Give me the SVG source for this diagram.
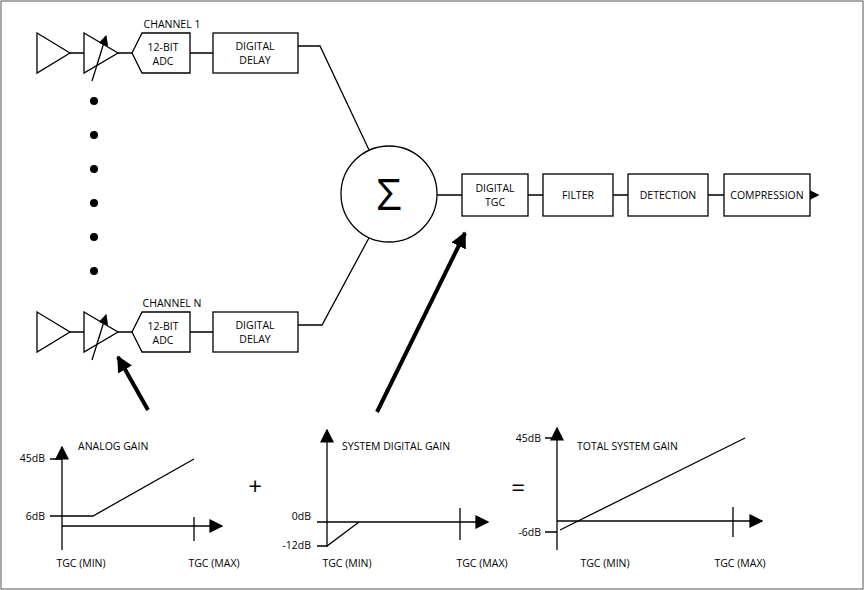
<svg xmlns="http://www.w3.org/2000/svg" width="864" height="590" viewBox="0 0 864 590">
<style>
.s{fill:none;stroke:#000;stroke-width:1.3}
.b{fill:#fff;stroke:#000;stroke-width:1.3}
text{font-family:"Open Sans","Liberation Sans",sans-serif;font-size:10.5px;fill:#000}
.m{text-anchor:middle}
.e{text-anchor:end}
</style>
<defs>
<marker id="ah" viewBox="0 0 10 10" refX="9" refY="5" markerWidth="10" markerHeight="10" markerUnits="userSpaceOnUse" orient="auto"><path d="M0,0L10,5L0,10z"/></marker>
<marker id="ab" viewBox="0 0 10 10" refX="9" refY="5" markerWidth="14" markerHeight="14" markerUnits="userSpaceOnUse" orient="auto"><path d="M0,0L10,5L0,10z"/></marker>
<marker id="at" viewBox="0 0 10 10" refX="9" refY="5" markerWidth="4" markerHeight="4" orient="auto"><path d="M0,0L10,5L0,10z"/></marker>
</defs>
<rect x="1" y="1" width="862" height="588" fill="#fff" stroke="#555" stroke-width="1"/>
<g id="connectors" class="s">
<path d="M70,53H84M118,53H132M190,53H213M298,46H320L370,152"/>
<path d="M70,332H84M118,332H132M190,332H213M298,325H322L370,236"/>
<path d="M437,195H462M528,195H543M613,195H628M708,195H724"/>
<path d="M810,195H818" marker-end="url(#ab)"/>
<path d="M148,410L118,357" stroke-width="4" marker-end="url(#at)"/>
<path d="M377,412L465,233" stroke-width="4" marker-end="url(#at)"/>
</g>
<g id="ch1">
<path class="b" d="M37,33L70,53L37,73z"/><path class="b" d="M84,33L118,53L84,73z"/>
<path class="s" d="M92,81L106,36" marker-end="url(#ah)"/>
<text x="172" y="28" class="m">CHANNEL 1</text>
<path class="b" d="M132,53L142,33H190V73H142z"/>
<text x="163" y="51" class="m">12-BIT</text><text x="163" y="65" class="m">ADC</text>
<rect class="b" x="213" y="33" width="85" height="40"/>
<text x="255" y="50" class="m">DIGITAL</text><text x="255" y="64" class="m">DELAY</text>
</g>
<g id="dots"><circle cx="94" cy="101" r="4"/><circle cx="94" cy="135" r="4"/><circle cx="94" cy="169" r="4"/><circle cx="94" cy="203" r="4"/><circle cx="94" cy="237" r="4"/><circle cx="94" cy="271" r="4"/></g>
<g id="chN">
<path class="b" d="M37,312L70,332L37,352z"/><path class="b" d="M84,312L118,332L84,352z"/>
<path class="s" d="M92,360L106,315" marker-end="url(#ah)"/>
<text x="172" y="307" class="m">CHANNEL N</text>
<path class="b" d="M132,332L142,312H190V352H142z"/>
<text x="163" y="330" class="m">12-BIT</text><text x="163" y="344" class="m">ADC</text>
<rect class="b" x="213" y="312" width="85" height="40"/>
<text x="255" y="329" class="m">DIGITAL</text><text x="255" y="343" class="m">DELAY</text>
</g>
<g id="sum"><circle class="b" cx="389" cy="194" r="48"/><text x="389" y="210" class="m" style="font-size:44px">Σ</text></g>
<g id="tgc"><rect class="b" x="462" y="174" width="66" height="42"/><text x="495" y="192" class="m">DIGITAL</text><text x="495" y="206" class="m">TGC</text></g>
<g id="filter"><rect class="b" x="543" y="174" width="70" height="42"/><text x="578" y="199" class="m">FILTER</text></g>
<g id="det"><rect class="b" x="628" y="174" width="80" height="42"/><text x="668" y="199" class="m">DETECTION</text></g>
<g id="comp"><rect class="b" x="724" y="174" width="86" height="42"/><text x="767" y="199" class="m">COMPRESSION</text></g>
<g id="g1" class="s">
<path d="M62,550V447" marker-end="url(#ab)"/>
<path d="M62,526H222" marker-end="url(#ab)"/>
<path d="M50,459H62M50,516H93L194,459M194,517V541"/>
</g>
<text x="45" y="462" class="e">45dB</text><text x="45" y="520" class="e">6dB</text>
<text x="78" y="450">ANALOG GAIN</text>
<text x="81" y="567" class="m">TGC (MIN)</text><text x="214" y="567" class="m">TGC (MAX)</text>
<text x="255" y="495" class="m" style="font-size:24px">+</text>
<g id="g2" class="s">
<path d="M327,547V430" marker-end="url(#ab)"/>
<path d="M317,522H488" marker-end="url(#ab)"/>
<path d="M317,546H327L359,522M460,508V540"/>
</g>
<text x="311" y="520" class="e">0dB</text><text x="311" y="549" class="e">-12dB</text>
<text x="342" y="450">SYSTEM DIGITAL GAIN</text>
<text x="347" y="567" class="m">TGC (MIN)</text><text x="482" y="567" class="m">TGC (MAX)</text>
<text x="518" y="496" class="m" style="font-size:24px">=</text>
<g id="g3" class="s">
<path d="M557,550V428" marker-end="url(#ab)"/>
<path d="M557,521H762" marker-end="url(#ab)"/>
<path d="M545,438H557M545,532H557M560,530L745,438M733,507V537"/>
</g>
<text x="541" y="442" class="e">45dB</text><text x="541" y="536" class="e">-6dB</text>
<text x="577" y="450">TOTAL SYSTEM GAIN</text>
<text x="605" y="567" class="m">TGC (MIN)</text><text x="740" y="567" class="m">TGC (MAX)</text>
</svg>
